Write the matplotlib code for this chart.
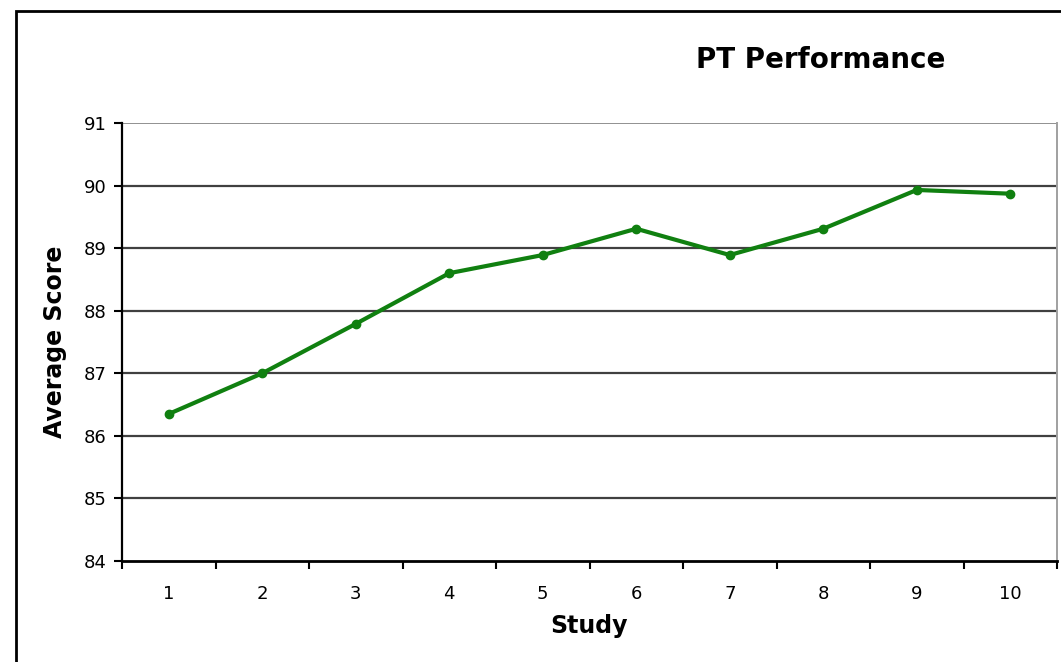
import numpy as np
import matplotlib.pyplot as plt
from matplotlib.patches import Rectangle

# data
study = [1, 2, 3, 4, 5, 6, 7, 8, 9, 10]
score = [86.35, 87.0, 87.79, 88.6, 88.89, 89.31, 88.89, 89.31, 89.93, 89.87]
yticks = [84, 85, 86, 87, 88, 89, 90, 91]

fig = plt.figure(figsize=(10.61, 6.62), dpi=100)
ax = fig.add_axes([122/1061, 1 - 561/662, (1057 - 122)/1061, (561 - 123)/662])

# outer chart frame (runs off right and bottom edges)
fig.patches.append(Rectangle((16/1061, -0.05), 1.1, 1 - 11/662 + 0.05,
                             transform=fig.transFigure, fill=False,
                             edgecolor='black', lw=2))

for v in yticks[1:-1]:
    ax.axhline(v, color='#404040', lw=1.6, zorder=1)
ax.axhline(91, color='#909090', lw=1.4, zorder=1)

ax.plot(study, score, color='#108010', lw=3, marker='o', ms=6, zorder=3)

ax.set_xlim(0.5, 10.5)
ax.set_ylim(84, 91)
ax.set_yticks(yticks)
ax.set_xticks(study)
ax.set_xticks(np.arange(0.5, 11, 1), minor=True)
ax.tick_params(axis='x', which='major', length=0, pad=17, labelsize=13)
ax.tick_params(axis='x', which='minor', length=6, width=1.5, direction='out')
ax.tick_params(axis='y', length=6, width=1.5, direction='out', labelsize=13, pad=5)

ax.spines['top'].set_visible(False)
ax.spines['right'].set_color('#a0a0a0')
ax.spines['right'].set_linewidth(1.4)
ax.spines['left'].set_linewidth(1.6)
ax.spines['bottom'].set_linewidth(2)

ax.set_xlabel("Study", fontsize=17, fontweight='bold', labelpad=8)
ax.set_ylabel("Average Score", fontsize=17, fontweight='bold', labelpad=12)
fig.text(821/1061, 1 - 60/662, "PT Performance", fontsize=20, fontweight='bold',
         ha='center', va='center')

plt.savefig("out.png", dpi=100)
